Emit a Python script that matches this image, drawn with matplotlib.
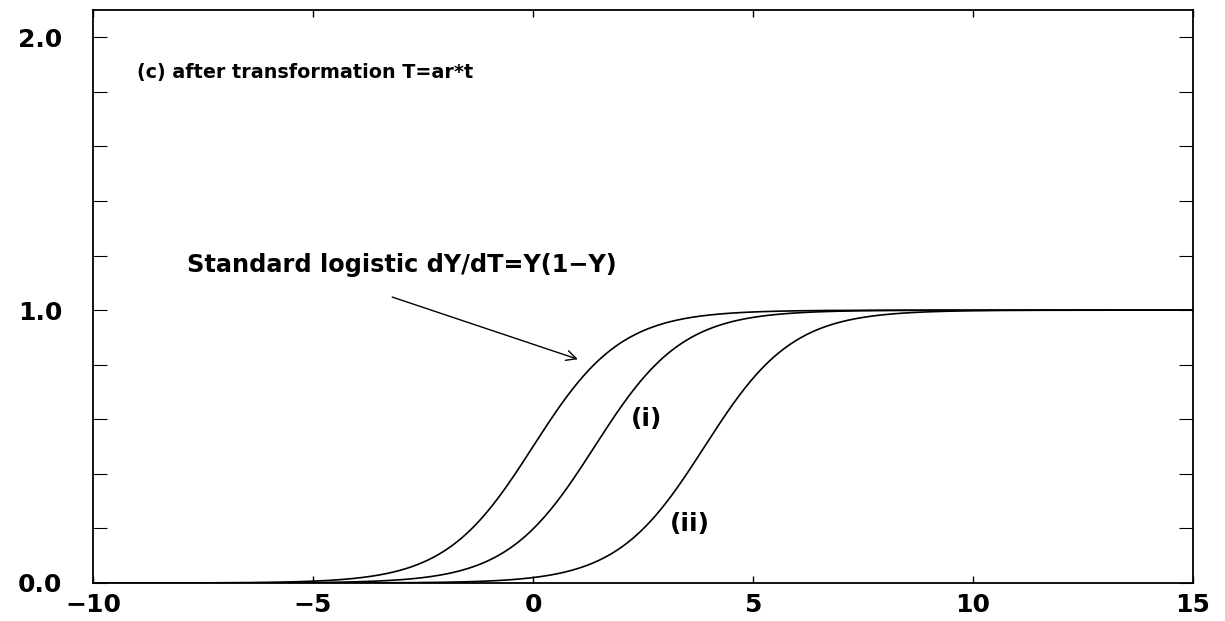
import numpy as np
import matplotlib
matplotlib.use("Agg")
import matplotlib.pyplot as plt
from matplotlib.ticker import MultipleLocator, FixedLocator

# ---- data ----
curve_names = ["standard", "(i)", "(ii)"]
curve_shifts = [0.0, 1.4, 3.9]          # T where each curve crosses Y = 0.5
T_range = [-10, 15]
y_range = [0.0, 2.1]
x_ticks = [-10, -5, 0, 5, 10, 15]
x_tick_labels = ["\u221210", "\u22125", "0", "5", "10", "15"]
y_major = [0.0, 1.0, 2.0]
y_major_labels = ["0.0", "1.0", "2.0"]

T = np.linspace(T_range[0], T_range[1], 1001)

fig = plt.figure(figsize=(12.25, 6.21), dpi=100)
ax = fig.add_axes([93 / 1225, 1 - 583 / 621, 1100 / 1225, 573 / 621])

for s in curve_shifts:
    Y = 1.0 / (1.0 + np.exp(-(T - s)))
    ax.plot(T, Y, color="black", lw=1.2)

ax.set_xlim(*T_range)
ax.set_ylim(*y_range)

ax.xaxis.set_major_locator(FixedLocator(x_ticks))
ax.set_xticklabels(x_tick_labels)
ax.yaxis.set_major_locator(FixedLocator(y_major))
ax.set_yticklabels(y_major_labels)
ax.yaxis.set_minor_locator(MultipleLocator(0.2))

ax.tick_params(axis="x", which="major", direction="in", length=5, width=1,
               top=True, bottom=True, pad=7)
ax.tick_params(axis="y", which="both", direction="in", length=10, width=0.8,
               left=True, right=True, pad=22)
for lab in ax.get_xticklabels() + ax.get_yticklabels():
    lab.set_fontfamily("DejaVu Sans")
    lab.set_fontweight("bold")
    lab.set_fontsize(18)
for sp in ax.spines.values():
    sp.set_linewidth(1.3)

tf = dict(family="DejaVu Sans", weight="bold", color="black")
ax.text(-9.0, 1.872, "(c) after transformation T=ar*t", fontsize=13.8,
        ha="left", va="center", **tf)
ax.text(-7.86, 1.165, "Standard logistic dY/dT=Y(1\u2212Y)", fontsize=17.3,
        ha="left", va="center", **tf)
ax.text(2.59, 0.60, "(i)", fontsize=18, ha="center", va="center", **tf)
ax.text(3.57, 0.216, "(ii)", fontsize=18, ha="center", va="center", **tf)

ax.annotate("", xy=(1.02, 0.82), xytext=(-3.2, 1.048),
            arrowprops=dict(arrowstyle="->", color="black", lw=1.0,
                            mutation_scale=18, shrinkA=0, shrinkB=0))

fig.savefig("out.png", dpi=100)
